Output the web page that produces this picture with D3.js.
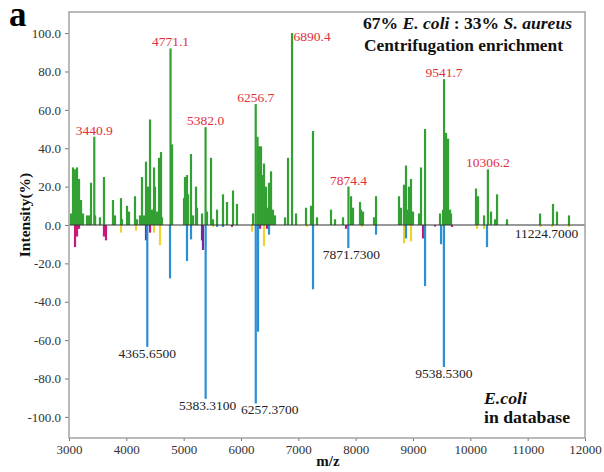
<!DOCTYPE html>
<html>
<head>
<meta charset="utf-8">
<script src="https://cdn.jsdelivr.net/npm/d3@7"></script>
<style>
  body { margin: 0; background: #fff; }
  svg text { font-family: "Liberation Serif", "DejaVu Serif", serif; }
</style>
</head>
<body>
<svg id="chart" width="604" height="472"></svg>
<script>
"use strict";

// sample spectrum (green), [m/z, intensity %]
var samplePeaks = [
	[3035, 6], [3070, 30], [3105, 29], [3140, 30], [3175, 24], [3210, 13], [3245, 6],
	[3314, 5], [3349, 5], [3384, 22], [3440.9, 46], [3455, 5], [3540, 4], [3610, 25],
	[3767, 13], [3802, 5], [3907, 14], [3924, 3], [4012, 10], [4047, 7], [4151, 15],
	[4186, 3], [4238, 5], [4273, 25], [4308, 5], [4343, 33], [4378, 20], [4413, 55],
	[4448, 8], [4483, 30], [4500, 20], [4535, 7], [4570, 35], [4605, 38], [4622, 4],
	[4771.1, 92], [4797, 42], [5006, 14], [5023, 25], [5058, 26], [5076, 16], [5128, 37],
	[5163, 5], [5215, 20], [5233, 9], [5320, 6], [5382.0, 51], [5407, 7], [5477, 35],
	[5512, 3], [5582, 8], [5686, 16], [5756, 12], [5861, 18], [5930, 11], [6210, 6],
	[6256.7, 63], [6288, 46], [6314, 41], [6349, 41], [6366, 26], [6401, 32], [6436, 20],
	[6454, 9], [6489, 22], [6524, 28], [6558, 8], [6593, 5], [6768, 4], [6820, 35],
	[6890.4, 100], [6960, 6], [7134, 9], [7221, 10], [7256, 49], [7326, 4], [7570, 8],
	[7640, 3], [7779, 4], [7874.4, 20], [7919, 15], [7954, 9], [8076, 12], [8093, 8],
	[8128, 7], [8320, 4], [8355, 15], [8756, 15], [8791, 9], [8843, 21], [8878, 31],
	[8913, 8], [8930, 20], [8965, 24], [9000, 7], [9105, 6], [9140, 30], [9210, 50],
	[9471, 6], [9524, 8], [9541.7, 76], [9576, 48], [9611, 45], [9646, 8], [9663, 6],
	[10099, 19], [10134, 15], [10239, 5], [10306.2, 29], [10361, 7], [10431, 3],
	[10466, 16], [10640, 3], [11216, 6], [11442, 11], [11512, 7], [11721, 5]
];

// database peaks (E. coli), drawn downward, [m/z, intensity %]
var dbBlue = [
	[4365.65, -63.5], [4762, -27.8], [5058, -18.8], [5128, -7.5], [5383.31, -90.6],
	[5582, -1], [5686, -1], [6257.37, -93], [6297, -55.6], [6489, -5], [7256, -33.5],
	[7871.73, -12], [8355, -5], [8878, -7], [9210, -31.8], [9489, -10], [9538.53, -74],
	[10291, -11.5]
];
var dbMagenta = [
	[3105, -11.5], [3140, -6], [3175, -2], [3610, -6], [3645, -8], [4413, -4],
	[5843, -1], [6332, -2], [6454, -2], [7832, -2], [9175, -7], [9384, -0.8], [9681, -1]
];
var dbYellow = [
	[3907, -4], [4169, -3], [4483, -4], [4587, -10.5], [5512, -1], [6192, -3.5],
	[6401, -11], [7151, -1], [8111, -1], [8843, -9.5], [8965, -8.5], [10117, -2],
	[10239, -2], [11224.7, -1], [11425, -1], [11721, -1]
];
var dbPurple = [
	[4343, -8], [5320, -8], [5337, -13]
];

var sampleLabels = [3440.9, 4771.1, 5382.0, 6256.7, 6890.4, 7874.4, 9541.7, 10306.2];
var dbLabels = [4365.65, 5383.31, 6257.37, 7871.73, 9538.53, 11224.7];

var xTicks = [3000, 4000, 5000, 6000, 7000, 8000, 9000, 10000, 11000, 12000];
var yTicks = [-100, -80, -60, -40, -20, 0, 20, 40, 60, 80, 100];

var svg = d3.select("#chart");
var plotL = 69, plotR = 585, plotT = 12, plotB = 438;

var x = d3.scaleLinear().domain([3000, 12000]).range([plotL, plotR]);
var y = d3.scaleLinear().domain([-111, 111]).range([plotB, plotT]);

// bars
function drawPeaks(data, color) {
	svg.append("g").selectAll("rect")
		.data(data)
	  .enter().append("rect")
		.attr("x", function(d){ return x(d[0]) - 1.1; })
		.attr("y", function(d){ return Math.min(y(d[1]), y(0)); })
		.attr("width", 2.2)
		.attr("height", function(d){ return Math.abs(y(d[1]) - y(0)); })
		.style("fill", color);
}
drawPeaks(samplePeaks, "#33a033");
drawPeaks(dbYellow, "#f3d22c");
drawPeaks(dbMagenta, "#c8197a");
drawPeaks(dbPurple, "#762a98");
drawPeaks(dbBlue, "#2b8fd3");

// zero line
svg.append("line")
	.attr("x1", plotL).attr("x2", plotR)
	.attr("y1", y(0)).attr("y2", y(0))
	.style("stroke", "#333").style("stroke-width", 1);

// axes
var xAxis = svg.append("g")
	.attr("transform", "translate(0," + plotB + ")")
	.call(d3.axisBottom(x).tickValues(xTicks).tickSize(3).tickPadding(4).tickFormat(function(d){ return d; }));
var yAxis = svg.append("g")
	.attr("transform", "translate(" + plotL + ",0)")
	.call(d3.axisLeft(y).tickValues(yTicks).tickSize(4).tickPadding(4).tickFormat(function(d){ return d.toFixed(1); }));
[xAxis, yAxis].forEach(function(a){
	a.select(".domain").remove();
	a.selectAll(".tick line").style("stroke", "#777");
	a.selectAll("text")
		.style("font-family", "'Liberation Serif', serif")
		.style("font-size", "13px")
		.style("fill", "#333");
});

// frame
svg.append("rect")
	.attr("x", plotL).attr("y", plotT)
	.attr("width", plotR - plotL).attr("height", plotB - plotT)
	.style("fill", "none").style("stroke", "#a3a3a3").style("stroke-width", 1.5);

// peak labels
function peakOf(list, mz) {
	for (var i=0; i<list.length; i++) {
		if (list[i][0] == mz) return list[i];
	}
}
svg.append("g").selectAll("text")
	.data(sampleLabels)
  .enter().append("text")
	.attr("x", function(d){ return d == 6890.4 ? x(d) + 1.5 : x(d); })
	.attr("y", function(d){
		var p = peakOf(samplePeaks, d);
		return d == 6890.4 ? y(p[1]) + 8 : y(p[1]) - 2;
	})
	.attr("text-anchor", function(d){ return d == 6890.4 ? "start" : "middle"; })
	.style("font-size", "13.5px")
	.style("fill", "#e0303c")
	.text(function(d){ return d.toFixed(1); });

var dbShift = {4365.65: 0, 5383.31: 2, 6257.37: 14, 7871.73: 3, 9538.53: 0, 11224.7: 6};
var allDb = dbBlue.concat(dbMagenta, dbYellow, dbPurple);
svg.append("g").selectAll("text")
	.data(dbLabels)
  .enter().append("text")
	.attr("x", function(d){ return x(d) + dbShift[d]; })
	.attr("y", function(d){ return y(peakOf(allDb, d)[1]) + 11; })
	.attr("text-anchor", "middle")
	.style("font-size", "13.5px")
	.style("fill", "#222")
	.text(function(d){ return d.toFixed(4); });

// panel letter
svg.append("text")
	.attr("x", 9).attr("y", 26)
	.style("font-size", "35px").style("font-weight", "bold")
	.text("a");

// title
var t1 = svg.append("text")
	.attr("x", 363).attr("y", 29)
	.attr("textLength", 209).attr("lengthAdjust", "spacingAndGlyphs")
	.style("font-size", "16.5px").style("font-weight", "bold").style("fill", "#111");
t1.append("tspan").text("67% ");
t1.append("tspan").style("font-style", "italic").text("E. coli");
t1.append("tspan").text(" : 33% ");
t1.append("tspan").style("font-style", "italic").text("S. aureus");
svg.append("text")
	.attr("x", 364).attr("y", 50.5)
	.attr("textLength", 199).attr("lengthAdjust", "spacingAndGlyphs")
	.style("font-size", "16.5px").style("font-weight", "bold").style("fill", "#111")
	.text("Centrifugation enrichment");

svg.append("text")
	.attr("x", 484).attr("y", 404)
	.attr("textLength", 43).attr("lengthAdjust", "spacingAndGlyphs")
	.style("font-size", "16.5px").style("font-weight", "bold").style("font-style", "italic").style("fill", "#111")
	.text("E.coli");
svg.append("text")
	.attr("x", 484).attr("y", 423)
	.attr("textLength", 86).attr("lengthAdjust", "spacingAndGlyphs")
	.style("font-size", "16.5px").style("font-weight", "bold").style("fill", "#111")
	.text("in database");

// axis titles
svg.append("text")
	.attr("transform", "translate(30,215) rotate(-90)")
	.attr("text-anchor", "middle")
	.style("font-size", "15.5px").style("font-weight", "bold").style("fill", "#111")
	.text("Intensity(%)");
svg.append("text")
	.attr("x", 328).attr("y", 466)
	.attr("text-anchor", "middle")
	.style("font-size", "15px").style("font-weight", "bold").style("fill", "#111")
	.text("m/z");
</script>
</body>
</html>
